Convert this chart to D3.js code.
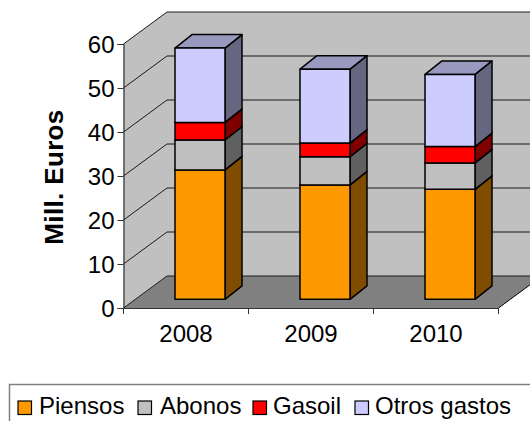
<!DOCTYPE html>
<html>
<head>
<meta charset="utf-8">
<script src="https://cdn.jsdelivr.net/npm/d3@7"></script>
<style>
    html, body { margin: 0; padding: 0; background: #fff; overflow: hidden; }
    svg { display: block; }
    text { font-family: "Liberation Sans", Arial, sans-serif; fill: #000; }
</style>
</head>
<body>
<div id="chart"></div>
<script>
const years = ['2008', '2009', '2010'];
const series_names = ['Piensos', 'Abonos', 'Gasoil', 'Otros gastos'];
const piensos = [29.4, 26, 25];
const abonos = [6.8, 6.4, 6];
const gasoil = [4, 3.1, 3.7];
const otros = [16.9, 16.8, 16.4];
const y_ticks = [0, 10, 20, 30, 40, 50, 60];
const y_title = 'Mill. Euros';

// CONFIG

const width = 530,
    height = 421;

const plot = { left: 123.5, right: 498.5, top: 44, bottom: 308 };
const wall = { dx: 43.5, dy: -32 };       // depth of the 3d box
const bar = { inset: 51.5, width: 50, lift: 8.7, dx: 17, dy: -13.5 };

const colors = {
    Piensos: '#ff9900',
    Abonos: '#c0c0c0',
    Gasoil: '#ff0000',
    'Otros gastos': '#ccccff'
};

const rows = years.map((year, i) => ({
    year,
    Piensos: piensos[i],
    Abonos: abonos[i],
    Gasoil: gasoil[i],
    'Otros gastos': otros[i]
}));

// SCALES

const x_scale = d3.scaleBand().domain(years).range([plot.left, plot.right]);
const y_scale = d3.scaleLinear().domain([0, 60]).range([plot.bottom, plot.top]);

const svg = d3.select('#chart')
    .append('svg')
    .attr('width', width)
    .attr('height', height);

const points = (list) => list.map((p) => p.join(',')).join(' ');

// WALLS AND FLOOR

const back_left = plot.left + wall.dx,
    back_right = plot.right + wall.dx;

svg.append('polygon')
    .attr('fill', '#c0c0c0')
    .attr('points', points([
        [plot.left, plot.top],
        [back_left, plot.top + wall.dy],
        [back_right, plot.top + wall.dy],
        [back_right, plot.bottom + wall.dy],
        [back_left, plot.bottom + wall.dy],
        [plot.left, plot.bottom]
    ]));

svg.append('polygon')
    .attr('fill', '#808080')
    .attr('points', points([
        [plot.left, plot.bottom],
        [back_left, plot.bottom + wall.dy],
        [back_right, plot.bottom + wall.dy],
        [plot.right, plot.bottom]
    ]));

// gridlines run along the left wall, then along the back wall
svg.append('g')
    .selectAll('polyline')
    .data(y_ticks)
    .enter()
    .append('polyline')
    .attr('fill', 'none')
    .attr('stroke', '#1a1a1a')
    .attr('stroke-width', 1)
    .attr('points', (d) => points([
        [plot.left, y_scale(d)],
        [back_left, y_scale(d) + wall.dy],
        [back_right, y_scale(d) + wall.dy]
    ]));

// floor edge on the right side
svg.append('line')
    .attr('x1', plot.right)
    .attr('y1', plot.bottom)
    .attr('x2', back_right)
    .attr('y2', plot.bottom + wall.dy)
    .attr('stroke', '#000');

// BARS

const stacked = d3.stack().keys(series_names)(rows);

const layers = svg.append('g')
    .selectAll('g')
    .data(stacked)
    .enter()
    .append('g');

const bar_y = (v) => y_scale(v) - bar.lift;
const bar_x = (d) => x_scale(d.data.year) + bar.inset;

const shade = (color, k) => {
    const c = d3.rgb(color);
    return d3.rgb(c.r * k, c.g * k, c.b * k).formatHex();
};

const bar_faces = layers.selectAll('g')
    .data((s) => s.map((d) => ({ ...d, key: s.key })))
    .enter()
    .append('g')
    .attr('stroke', '#000')
    .attr('stroke-width', 1.5)
    .attr('stroke-linejoin', 'round');

// side
bar_faces.append('polygon')
    .attr('fill', (d) => shade(colors[d.key], 0.5))
    .attr('points', (d) => {
        const x = bar_x(d) + bar.width;
        return points([
            [x, bar_y(d[0])],
            [x + bar.dx, bar_y(d[0]) + bar.dy],
            [x + bar.dx, bar_y(d[1]) + bar.dy],
            [x, bar_y(d[1])]
        ]);
    });

// top
bar_faces.append('polygon')
    .attr('fill', (d) => shade(colors[d.key], 0.75))
    .attr('points', (d) => {
        const x = bar_x(d);
        return points([
            [x, bar_y(d[1])],
            [x + bar.dx, bar_y(d[1]) + bar.dy],
            [x + bar.width + bar.dx, bar_y(d[1]) + bar.dy],
            [x + bar.width, bar_y(d[1])]
        ]);
    });

// front
bar_faces.append('rect')
    .attr('fill', (d) => colors[d.key])
    .attr('x', bar_x)
    .attr('y', (d) => bar_y(d[1]))
    .attr('width', bar.width)
    .attr('height', (d) => bar_y(d[0]) - bar_y(d[1]));

// AXES

const y_axis = d3.axisLeft(y_scale)
    .tickValues(y_ticks)
    .tickSize(6)
    .tickPadding(3);

const y_g = svg.append('g')
    .attr('transform', `translate(${plot.left}, 0)`)
    .call(y_axis);

const x_axis = d3.axisBottom(x_scale)
    .tickSize(0)
    .tickPadding(17);

const x_g = svg.append('g')
    .attr('transform', `translate(0, ${plot.bottom})`)
    .call(x_axis);

x_g.selectAll('.tick-mark')
    .data(x_scale.domain().map((d) => x_scale(d)).concat(plot.right))
    .enter()
    .append('line')
    .attr('class', 'tick-mark')
    .attr('x1', (d) => d)
    .attr('x2', (d) => d)
    .attr('y2', 6)
    .attr('stroke', '#333');

svg.selectAll('.domain').attr('stroke', '#333').attr('stroke-width', 1.2);
svg.selectAll('.tick line').attr('stroke', '#333');
svg.selectAll('.tick text')
    .style('font-size', '24px')
    .style('font-family', '"Liberation Sans", Arial, sans-serif')
    .attr('fill', '#000');

y_g.selectAll('.tick text').attr('y', 1);

svg.append('text')
    .attr('transform', 'translate(63, 177) rotate(270)')
    .style('text-anchor', 'middle')
    .style('font-size', '26px')
    .style('letter-spacing', '0.35px')
    .style('font-weight', 'bold')
    .text(y_title);

// LEGEND

svg.append('rect')
    .attr('x', 9.5)
    .attr('y', 384.5)
    .attr('width', 540)
    .attr('height', 60)
    .attr('fill', '#fff')
    .attr('stroke', '#7f7f7f')
    .attr('stroke-width', 1.5);

const legend_swatch_x = [18, 138, 253, 355];
const legend_text_x = [39, 160, 273, 375];

const legend = svg.append('g')
    .selectAll('g')
    .data(series_names)
    .enter()
    .append('g');

legend.append('rect')
    .attr('x', (d, i) => legend_swatch_x[i])
    .attr('y', 401)
    .attr('width', 13.5)
    .attr('height', 13.5)
    .attr('fill', (d) => colors[d])
    .attr('stroke', '#000')
    .attr('stroke-width', 1.2);

legend.append('text')
    .attr('x', (d, i) => legend_text_x[i])
    .attr('y', 413.5)
    .style('font-size', '24px')
    .text((d) => d);
</script>
</body>
</html>
